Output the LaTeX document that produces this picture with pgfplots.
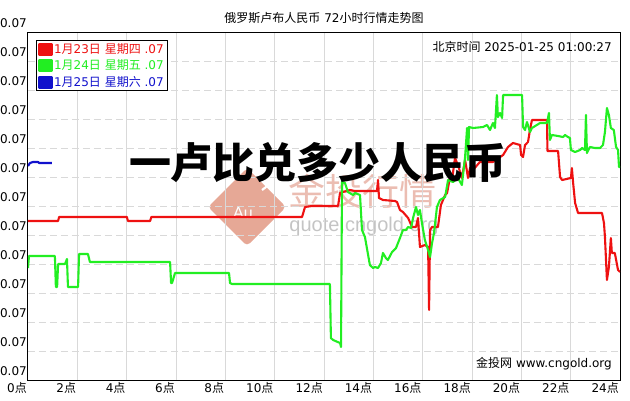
\documentclass[border=0pt]{standalone}
\usepackage{fontspec}
\setmainfont{DejaVu Sans}
\newfontfamily\cjk{Noto Sans CJK SC}
\newfontfamily\lib{Liberation Sans}
\usepackage{pgfplots}
\pgfplotsset{compat=1.18}
\definecolor{cred}{HTML}{EE1111}
\definecolor{cgreen}{HTML}{22EE22}
\definecolor{cblue}{HTML}{1111CC}
\definecolor{wmpink}{HTML}{EBBDB2}
\definecolor{wmdia}{HTML}{E6A896}
\definecolor{wmgray}{HTML}{C4C4C4}
\definecolor{gridc}{HTML}{D9D9D9}
\newcommand\fs{\fontsize{12}{14}\selectfont}
\begin{document}
\begin{tikzpicture}
\path[use as bounding box] (-28pt,-20pt) rectangle (602pt,380pt);
% watermark, image pixel coordinates
\begin{scope}[x=1pt,y=-1pt,shift={(-28pt,380pt)}]
\fill[wmdia, rounded corners=4pt] (247,168) -- (286,207) -- (247,246) -- (208,207) -- cycle;
\draw[white, line width=2.2pt] (262,190) arc (60:-200:19);
\node[white, font=\lib\fontsize{16}{16}\selectfont] at (243,213) {Au};
\node[wmpink, font=\cjk\fontsize{37}{37}\selectfont, inner sep=0pt] at (362,191) {金投行情};
\node[wmgray, font=\lib\fontsize{20}{20}\selectfont, inner sep=0pt] at (364,226) {quote.cngold.org};
\end{scope}
\begin{axis}[
  at={(0pt,0pt)}, anchor=south west,
  scale only axis, width=592pt, height=348pt,
  xmin=0, xmax=24, ymin=32, ymax=380, y dir=reverse,
  xtick={0,2,...,24},
  xticklabels={0{\cjk 点},2{\cjk 点},4{\cjk 点},6{\cjk 点},8{\cjk 点},10{\cjk 点},12{\cjk 点},14{\cjk 点},16{\cjk 点},18{\cjk 点},20{\cjk 点},22{\cjk 点},24{\cjk 点}},
  ytick={32,61,90,119,148,177,206,235,264,293,322,351,380},
  yticklabel={0.07},
  tick label style={font=\fs, black},
  yticklabel style={anchor=east, inner sep=1pt, yshift=9pt},
  xticklabel style={anchor=north east, inner sep=0pt, xshift=-1pt, yshift=-2pt},
  major tick length=0pt,
  xmajorgrids, ymajorgrids,
  x grid style={solid, gridc, line width=1pt},
  y grid style={gridc, line width=1pt, dash pattern=on 7pt off 4pt},
  axis line style={black, line width=1pt},
  legend style={at={(axis description cs:0.0135,0.977)}, anchor=north west,
    draw=black, line width=1pt, fill=white, font=\fs,
    inner xsep=2pt, inner ysep=1.5pt, row sep=2pt, nodes={inner sep=1.5pt}},
  legend cell align=left,
  legend image code/.code={\fill[#1] (0pt,-5.5pt) rectangle (12pt,5.5pt);},
]
\addplot[cred, line width=2.1pt, line join=round] coordinates {
(0,221) (1.22,221) (1.26,217) (4.01,217) (4.05,221) (4.95,221) (5.00,217) (11.11,217)
(11.23,207) (11.51,206) (12.57,206) (12.65,193) (12.77,192) (13.05,190) (13.26,191)
(14.15,191) (14.19,180) (14.23,198) (14.39,200) (14.88,201) (14.96,202) (15.08,210)
(15.20,212) (15.41,218) (15.57,227) (15.73,227) (15.81,218) (15.89,247) (16.09,245)
(16.22,247) (16.26,310) (16.30,230) (16.38,227) (16.62,227) (16.74,205) (16.91,195)
(16.99,193) (17.11,177) (17.19,180) (17.31,158) (17.43,165) (17.59,178) (17.72,160)
(17.84,178) (17.92,168) (18.04,170) (18.32,162) (18.85,162) (19.26,155) (19.46,147)
(19.66,143) (19.95,145) (19.99,155) (20.07,157) (20.15,145) (20.27,142) (20.35,130)
(20.43,120) (21.04,120) (21.06,151) (21.49,151) (21.57,177) (21.65,180) (22.01,178)
(22.05,168) (22.10,183) (22.18,203) (22.30,213) (23.27,213) (23.35,223) (23.39,237)
(23.47,280) (23.55,267) (23.63,238) (23.67,253) (23.79,253) (23.92,270) (24.00,272)
};
\addlegendentry{\textcolor{cred}{1{\cjk 月}23{\cjk 日} {\cjk 星期四} .07}}
\addplot[cgreen, line width=2.1pt, line join=round] coordinates {
(0,268) (0.04,256) (1.09,256) (1.13,287) (1.18,287) (1.22,264) (1.50,264) (1.58,259)
(1.62,287) (2.03,287) (2.07,254) (2.43,254) (2.51,262) (5.76,262) (5.80,283) (5.84,283)
(5.96,273) (8.15,273) (8.19,283) (8.27,284) (12.24,284) (12.28,338) (12.37,340)
(12.65,343) (12.69,347) (12.73,182) (12.85,183) (12.97,192) (13.18,195) (13.26,193)
(13.46,195) (13.54,230) (13.66,237) (13.86,265) (13.99,268) (14.07,267) (14.19,268)
(14.31,263) (14.39,253) (14.51,258) (14.59,260) (14.76,252) (14.92,248) (15.08,238)
(15.20,230) (15.32,230) (15.41,227) (15.53,228) (15.61,218) (15.73,207) (15.81,215)
(15.89,210) (15.97,223) (16.09,240) (16.22,250) (16.30,257) (16.38,243) (16.46,233)
(16.58,207) (16.70,200) (16.91,197) (17.03,180) (17.23,182) (17.43,178) (17.59,185)
(17.72,157) (17.80,128) (17.84,160) (17.88,127) (18.04,128) (18.45,127) (18.61,125)
(18.73,130) (18.85,123) (18.93,128) (19.01,95) (19.05,117) (19.14,113) (19.22,118)
(19.26,95) (20.03,95) (20.07,127) (20.15,130) (20.23,122) (20.35,132) (20.43,128)
(20.76,123) (21.04,123) (21.12,113) (21.16,140) (21.24,135) (21.49,136) (21.69,137)
(21.77,135) (21.89,137) (21.97,138) (22.01,150) (22.18,152) (22.38,150) (22.46,148)
(22.58,150) (22.62,115) (22.66,153) (22.78,147) (22.99,148) (23.19,148) (23.31,145)
(23.39,132) (23.47,108) (23.55,115) (23.63,128) (23.75,130) (23.84,147) (23.92,150)
(23.96,167) (24.00,167)
};
\addlegendentry{\textcolor{cgreen}{1{\cjk 月}24{\cjk 日} {\cjk 星期五} .07}}
\addplot[cblue, line width=2.1pt, line join=round] coordinates {
(0,166) (0.08,163) (0.20,162) (0.41,162) (0.45,163) (0.97,163)
};
\addlegendentry{\textcolor{cblue}{1{\cjk 月}25{\cjk 日} {\cjk 星期六} .07}}
\end{axis}
\begin{scope}[x=1pt,y=-1pt,shift={(-28pt,380pt)}]
\node[font=\fs, inner sep=0pt] at (324,18) {{\cjk 俄罗斯卢布人民币} 72{\cjk 小时行情走势图}};
\node[font=\fs, inner sep=0pt, anchor=east] at (612,47) {{\cjk 北京时间} 2025-01-25 01:00:27};
\node[font=\fs, inner sep=0pt, anchor=east] at (612,364) {{\cjk 金投网} www.cngold.org};
\node[font=\cjk\bfseries\fontsize{42}{42}\selectfont, inner sep=0pt] at (318,163) {一卢比兑多少人民币};
\end{scope}
\end{tikzpicture}
\end{document}
